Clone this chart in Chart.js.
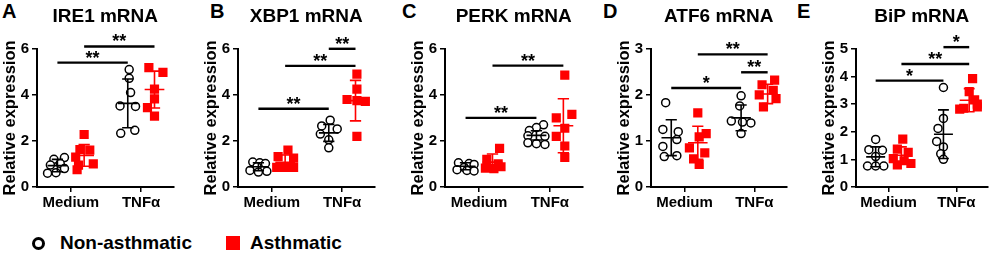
<!DOCTYPE html>
<html>
<head>
<meta charset="utf-8">
<script src="https://cdn.jsdelivr.net/npm/chart.js@4.4.1/dist/chart.umd.min.js"></script>
<style>
  html, body { margin: 0; padding: 0; background: #fff; }
  body { width: 996px; height: 254px; position: relative; overflow: hidden; font-family: "Liberation Sans", Arial, sans-serif; }
  canvas { position: absolute; top: 0; }
  .letter { position: absolute; top: 1px; font-weight: bold; font-size: 20px; line-height: 20px; color: #000; }
  .legend { position: absolute; top: 232px; left: 0; height: 22px; font-weight: bold; font-size: 19px; color: #000; }
  .legend span { position: absolute; white-space: nowrap; }
</style>
</head>
<body>
<div class="legend">
  <span style="left:32px;top:5px;width:7px;height:7px;border:3px solid #000;border-radius:50%;"></span>
  <span style="left:60px;top:0;line-height:22px;">Non-asthmatic</span>
  <span style="left:226px;top:4px;width:14px;height:14px;background:#ff0000;"></span>
  <span style="left:250px;top:0;line-height:22px;">Asthmatic</span>
</div>
<script>
// ---------- data ----------
const categories = ['Medium', 'TNFα'];
const seriesNames = ['Non-asthmatic', 'Asthmatic'];
const panelLetters = ['A', 'B', 'C', 'D', 'E'];
const panelTitles = ['IRE1 mRNA', 'XBP1 mRNA', 'PERK mRNA', 'ATF6 mRNA', 'BiP mRNA'];
const yMaxes = [6, 6, 6, 3, 5];
const ySteps = [2, 2, 2, 1, 1];

// group order: [Non-asthmatic Medium, Asthmatic Medium, Non-asthmatic TNFα, Asthmatic TNFα]
// IRE1
const ire1Values = [
  [1.28, 1.2, 1.02, 0.95, 0.8, 0.62, 0.6],
  [2.28, 1.62, 1.6, 1.3, 1.0, 0.95, 0.75],
  [5.1, 4.72, 4.1, 3.52, 3.5, 2.46, 2.33],
  [5.18, 4.98, 4.25, 3.83, 3.45, 3.08]
];
const ire1Jitter = [
  [0.1, -0.05, 0.04, -0.1, 0.1, -0.02, -0.14],
  [0.0, -0.06, 0.08, -0.12, 0.13, -0.08, -0.1],
  [0.02, 0.02, 0.04, -0.11, 0.11, 0.1, -0.1],
  [-0.08, 0.12, 0.0, 0.0, -0.1, 0.0]
];
const ire1Mean = [0.93, 1.37, 3.63, 4.23];
const ire1SD = [0.27, 0.47, 1.06, 0.8];
const ire1Sig = [[0, 2, 5.4, '**'], [1, 3, 6.1, '**']];

// XBP1
const xbp1Values = [
  [1.08, 1.05, 1.02, 0.88, 0.72, 0.68, 0.65],
  [1.6, 1.32, 1.25, 0.85, 0.85, 0.85],
  [2.9, 2.65, 2.52, 2.3, 2.05, 1.7],
  [4.9, 4.25, 3.8, 3.75, 3.72, 2.2]
];
const xbp1Jitter = [
  [-0.08, 0.02, 0.1, -0.02, -0.12, 0.12, 0.0],
  [0.04, -0.1, 0.12, -0.12, 0.0, 0.12],
  [0.02, -0.1, 0.12, -0.12, 0.0, 0.0],
  [0.02, 0.02, -0.12, 0.02, 0.14, 0.02]
];
const xbp1Mean = [0.88, 1.07, 2.35, 3.75];
const xbp1SD = [0.17, 0.32, 0.37, 0.88];
const xbp1Sig = [[0, 2, 3.4, '**'], [1, 3, 5.26, '**'], [2, 3, 6.0, '**']];

// PERK
const perkValues = [
  [1.05, 1.02, 0.98, 0.85, 0.75, 0.72, 0.7],
  [1.68, 1.2, 1.0, 0.88, 0.82, 0.8],
  [2.7, 2.58, 2.45, 2.22, 2.2, 1.92, 1.88, 1.85],
  [4.86, 3.15, 3.0, 2.55, 2.2, 1.78, 1.28]
];
const perkJitter = [
  [-0.1, 0.05, 0.12, -0.02, -0.12, 0.02, 0.12],
  [0.1, -0.08, 0.08, 0.12, -0.1, 0.02],
  [0.1, 0.0, -0.1, -0.12, 0.12, -0.12, 0.0, 0.12],
  [0.02, 0.12, -0.1, 0.02, -0.1, 0.02, 0.02]
];
const perkMean = [0.9, 1.08, 2.24, 2.66];
const perkSD = [0.15, 0.35, 0.2, 1.17];
const perkSig = [[0, 2, 3.0, '**'], [1, 3, 5.27, '**']];

// ATF6
const atf6Values = [
  [1.83, 1.25, 1.2, 1.03, 0.88, 0.68, 0.66],
  [1.61, 1.16, 1.09, 0.85, 0.74, 0.61, 0.49],
  [1.98, 1.76, 1.43, 1.41, 1.39, 1.16],
  [2.32, 2.22, 2.1, 2.0, 1.92, 1.74]
];
const atf6Jitter = [
  [-0.08, -0.12, 0.1, 0.08, -0.12, 0.08, -0.1],
  [0.0, 0.12, 0.02, -0.12, 0.1, -0.06, 0.02],
  [0.0, -0.02, -0.14, 0.02, 0.14, 0.0],
  [0.1, -0.08, 0.08, -0.12, 0.12, -0.06]
];
const atf6Mean = [1.07, 0.96, 1.5, 2.02];
const atf6SD = [0.39, 0.36, 0.28, 0.21];
const atf6Sig = [[0, 2, 2.15, '*'], [1, 3, 2.88, '**'], [2, 3, 2.49, '**']];

// BiP
const bipValues = [
  [1.72, 1.35, 1.33, 1.1, 0.76, 0.76, 0.76],
  [1.73, 1.37, 1.25, 1.03, 0.95, 0.85, 0.8],
  [3.6, 2.48, 2.12, 1.65, 1.45, 1.2, 1.0],
  [3.92, 3.45, 3.15, 3.0, 2.9, 2.85, 2.82]
];
const bipJitter = [
  [0.0, -0.1, 0.1, 0.0, -0.12, 0.0, 0.12],
  [0.02, -0.06, 0.1, -0.12, 0.04, 0.14, -0.06],
  [0.0, 0.0, -0.08, -0.1, 0.0, -0.04, 0.0],
  [0.05, 0.0, 0.08, 0.12, 0.12, -0.08, -0.14]
];
const bipMean = [1.09, 1.15, 1.91, 3.14];
const bipSD = [0.36, 0.3, 0.88, 0.42];
const bipSig = [[0, 2, 3.85, '*'], [1, 3, 4.45, '**'], [2, 3, 5.06, '*']];

// ---------- layout / style ----------
const FONT = '"Liberation Sans", Arial, sans-serif';
const RED = '#ff0000';
const panelValues = [ire1Values, xbp1Values, perkValues, atf6Values, bipValues];
const panelJitter = [ire1Jitter, xbp1Jitter, perkJitter, atf6Jitter, bipJitter];
const panelMeans = [ire1Mean, xbp1Mean, perkMean, atf6Mean, bipMean];
const panelSDs = [ire1SD, xbp1SD, perkSD, atf6SD, bipSD];
const panelSigs = [ire1Sig, xbp1Sig, perkSig, atf6Sig, bipSig];

const canvasLeft = [0, 201, 408, 614, 819];
const canvasWidth = [180, 180, 181, 179, 175];
const letterLeft = [2, 210, 402, 603, 797];
const CANVAS_H = 215;
const YAXIS_W = 37;
const XAXIS_H = 28;
const groupOffset = [-0.19, 0.19, -0.19, 0.19];
const groupCat = [1, 1, 2, 2];

function groupX(g) { return groupCat[g] + groupOffset[g]; }

function makeOverlay(p) {
  return {
    id: 'overlay' + p,
    afterDatasetsDraw(chart) {
      const { ctx, scales: { x, y } } = chart;
      ctx.save();
      // mean ± SD
      for (let g = 0; g < 4; g++) {
        const col = g % 2 === 0 ? '#000' : RED;
        const cx = groupX(g);
        const m = panelMeans[p][g], s = panelSDs[p][g];
        const xm0 = x.getPixelForValue(cx - 0.14), xm1 = x.getPixelForValue(cx + 0.14);
        const xc0 = x.getPixelForValue(cx - 0.08), xc1 = x.getPixelForValue(cx + 0.08);
        const xc = x.getPixelForValue(cx);
        const ym = y.getPixelForValue(m), yt = y.getPixelForValue(m + s), yb = y.getPixelForValue(Math.max(0, m - s));
        ctx.strokeStyle = col;
        ctx.lineWidth = 1.6;
        ctx.beginPath();
        ctx.moveTo(xm0, ym); ctx.lineTo(xm1, ym);
        ctx.moveTo(xc, yt); ctx.lineTo(xc, yb);
        ctx.moveTo(xc0, yt); ctx.lineTo(xc1, yt);
        ctx.moveTo(xc0, yb); ctx.lineTo(xc1, yb);
        ctx.stroke();
      }
      // significance bars
      ctx.strokeStyle = '#000';
      ctx.fillStyle = '#000';
      ctx.lineWidth = 2.4;
      ctx.font = 'bold 18px ' + FONT;
      ctx.textAlign = 'center';
      ctx.textBaseline = 'alphabetic';
      for (const [g0, g1, lvl, lab] of panelSigs[p]) {
        const x0 = x.getPixelForValue(groupX(g0)), x1 = x.getPixelForValue(groupX(g1));
        const yy = y.getPixelForValue(lvl);
        ctx.beginPath();
        ctx.moveTo(x0, yy); ctx.lineTo(x1, yy);
        ctx.stroke();
        ctx.fillText(lab, (x0 + x1) / 2, yy + 1);
      }
      ctx.restore();
    }
  };
}

for (let p = 0; p < 5; p++) {
  const letter = document.createElement('div');
  letter.className = 'letter';
  letter.style.left = letterLeft[p] + 'px';
  letter.textContent = panelLetters[p];
  document.body.appendChild(letter);

  const cv = document.createElement('canvas');
  cv.width = canvasWidth[p];
  cv.height = CANVAS_H;
  cv.style.left = canvasLeft[p] + 'px';
  cv.style.width = canvasWidth[p] + 'px';
  cv.style.height = CANVAS_H + 'px';
  document.body.appendChild(cv);

  const datasets = [0, 1].map(s => {
    const pts = [];
    for (let g = s; g < 4; g += 2) {
      panelValues[p][g].forEach((v, i) => pts.push({ x: groupX(g) + panelJitter[p][g][i], y: v }));
    }
    return s === 0 ? {
      label: seriesNames[0], data: pts, pointStyle: 'circle', pointRadius: 4,
      pointBackgroundColor: '#fff', pointBorderColor: '#000', pointBorderWidth: 1.5, showLine: false
    } : {
      label: seriesNames[1], data: pts, pointStyle: 'rect', pointRadius: 6.5,
      pointBackgroundColor: RED, pointBorderColor: RED, pointBorderWidth: 0, showLine: false
    };
  });

  new Chart(cv, {
    type: 'scatter',
    data: { datasets },
    options: {
      animation: false, responsive: false, devicePixelRatio: 1,
      layout: { padding: { left: 0, right: 3, top: 0, bottom: 0 } },
      plugins: {
        legend: { display: false },
        tooltip: { enabled: false },
        title: {
          display: true, text: panelTitles[p], color: '#000', fullSize: false,
          font: { family: FONT, size: 19, weight: 'bold', lineHeight: 1.2 },
          padding: { top: 5, bottom: 21 }
        }
      },
      scales: {
        x: {
          type: 'linear', min: 0.52, max: 2.46,
          afterBuildTicks: s => { s.ticks = [{ value: 1 }, { value: 2 }]; },
          afterFit: s => { s.height = XAXIS_H; },
          ticks: {
            callback: (v, i) => categories[i], color: '#000', padding: 2,
            autoSkip: false, maxRotation: 0,
            font: { family: FONT, size: 15, weight: 'bold' }
          },
          grid: { drawOnChartArea: false, drawTicks: true, tickLength: 5, color: '#000', lineWidth: 1.5 },
          border: { display: true, color: '#000', width: 2 }
        },
        y: {
          min: 0, max: yMaxes[p],
          afterFit: s => { s.width = YAXIS_W; },
          ticks: { stepSize: ySteps[p], color: '#000', padding: 3, font: { family: FONT, size: 15, weight: 'bold' } },
          grid: { drawOnChartArea: false, drawTicks: true, tickLength: 5, color: '#000', lineWidth: 1.5 },
          border: { display: true, color: '#000', width: 2 },
          title: {
            display: true, text: 'Relative expression', color: '#000',
            font: { family: FONT, size: 16.5, weight: 'bold', lineHeight: 1 },
            padding: { top: 2, bottom: 0 }
          }
        }
      }
    },
    plugins: [makeOverlay(p)]
  });
}
</script>
</body>
</html>
